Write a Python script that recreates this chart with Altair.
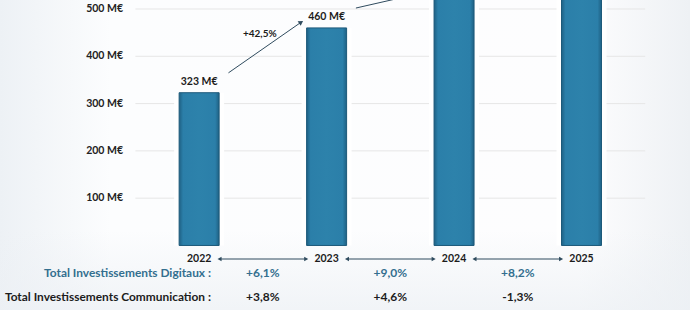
import altair as alt
import pandas as pd
import math

# ---- data -------------------------------------------------------------
years = [2022, 2023, 2024, 2025]
values = [323, 460, 525, 600]          # M€
value_labels = ["323 M€", "460 M€"]    # labelled bars

growth_labels = ["+42,5%"]             # growth of the bar values, year on year

y_ticks = [100, 200, 300, 400, 500]
y_tick_labels = ["100 M€", "200 M€", "300 M€", "400 M€", "500 M€"]

row_labels = ["Total Investissements Digitaux :", "Total Investissements Communication :"]
digital_growth = ["+6,1%", "+9,0%", "+8,2%"]
comm_growth = ["+3,8%", "+4,6%", "-1,3%"]

# ---- layout / style ---------------------------------------------------
W, H = 690, 310
X_DOMAIN = [2020.4768, 2025.812]
Y_DOMAIN = [-136.4, 519.0]
PX_PER_YEAR = W / (X_DOMAIN[1] - X_DOMAIN[0])
PX_PER_UNIT = H / (Y_DOMAIN[1] - Y_DOMAIN[0])

FONT = "Lato"
BLUE = "#336f8f"
DARK = "#1c1c1c"
ARROW = "#2f4b5e"

xs = alt.Scale(domain=X_DOMAIN, nice=False, zero=False)
ys = alt.Scale(domain=Y_DOMAIN, nice=False, zero=False)
X = lambda f: alt.X(f, type="quantitative", scale=xs, axis=None)
Y = lambda f: alt.Y(f, type="quantitative", scale=ys, axis=None)

bars_df = pd.DataFrame({"year": years, "value": values})
labels_df = pd.DataFrame({"year": years[:len(value_labels)],
                          "value": values[:len(value_labels)],
                          "label": value_labels})

# year-on-year arrows drawn from bar values
arrow_rows = []
for i in range(len(years) - 1):
    x0, y0 = years[i] + 0.23, values[i] + 42
    x1, y1 = years[i + 1] - 0.2, values[i + 1] + 12
    dxp = (x1 - x0) * PX_PER_YEAR
    dyp = (y1 - y0) * PX_PER_UNIT
    ang = math.degrees(math.atan2(dxp, dyp)) % 360
    arrow_rows.append({"x0": x0, "y0": y0, "x1": x1, "y1": y1, "angle": ang,
                       "xm": (x0 + x1) / 2, "ym": (y0 + y1) / 2})
arrows_df = pd.DataFrame(arrow_rows)
growth_df = arrows_df.iloc[:len(growth_labels)].assign(label=growth_labels)

grid_df = pd.DataFrame({"v": y_ticks, "label": y_tick_labels})

mid_years = [y + 0.5 for y in years[:-1]]
rows_df = pd.DataFrame({"mid": mid_years, "digital": digital_growth, "comm": comm_growth,
                        "left": [m - 0.34 for m in mid_years], "right": [m + 0.34 for m in mid_years]})

# ---- layers -----------------------------------------------------------
background = alt.Chart(alt.Data(values=[{}])).mark_rect(
    color=alt.Gradient(
        gradient="linear", x1=0, x2=1, y1=0, y2=0,
        stops=[alt.GradientStop(color="#edf1f5", offset=0),
               alt.GradientStop(color="#fcfdfe", offset=0.16),
               alt.GradientStop(color="#fdfdfe", offset=0.84),
               alt.GradientStop(color="#eef1f4", offset=1)])
).encode(x=alt.value(0), x2=alt.value(W), y=alt.value(0), y2=alt.value(H))

bottom_haze = alt.Chart(alt.Data(values=[{}])).mark_rect(
    color=alt.Gradient(
        gradient="linear", x1=0, x2=0, y1=0, y2=1,
        stops=[alt.GradientStop(color="rgba(236,240,244,0)", offset=0),
               alt.GradientStop(color="rgba(236,240,244,0.7)", offset=1)])
).encode(x=alt.value(0), x2=alt.value(W), y=alt.value(230), y2=alt.value(H))

grid = alt.Chart(grid_df).mark_rule(color="#e6e6e6", strokeWidth=1).encode(
    x=X("x0:Q"), x2="x1:Q", y=Y("v")
).transform_calculate(x0="2021.5", x1="2025.5")

ylabels = alt.Chart(grid_df).mark_text(
    align="right", baseline="middle", font=FONT, fontSize=10.5, fontWeight="bold", color="#222222"
).encode(x=alt.value(123), y=Y("v"), text="label:N")

halo = alt.Chart(bars_df).mark_bar(size=50, color="#ffffff", clip=True).encode(
    x=X("year"), y=Y("value"), y2=alt.datum(0)
)

bars = alt.Chart(bars_df).mark_bar(
    size=40, clip=True, stroke="#1d5a7a", strokeWidth=1,
    color=alt.Gradient(
        gradient="linear", x1=0, x2=1, y1=0, y2=0,
        stops=[alt.GradientStop(color="#1f6184", offset=0),
               alt.GradientStop(color="#2b7fa9", offset=0.1),
               alt.GradientStop(color="#2d82ab", offset=0.5),
               alt.GradientStop(color="#2b7fa9", offset=0.9),
               alt.GradientStop(color="#1f6184", offset=1)])
).encode(x=X("year"), y=Y("value"), y2=alt.datum(0))

bar_labels = alt.Chart(labels_df).mark_text(
    dy=-11, baseline="middle", font=FONT, fontSize=10.5, fontWeight="bold", color=DARK
).encode(x=X("year"), y=Y("value"), text="label:N")

arrow_lines = alt.Chart(arrows_df).mark_rule(color=ARROW, strokeWidth=1, clip=True).encode(
    x=X("x0"), y=Y("y0"), x2="x1:Q", y2="y1:Q"
)
arrow_heads = alt.Chart(arrows_df).mark_point(
    shape="triangle-up", filled=True, size=30, color=ARROW, opacity=1, clip=True
).encode(x=X("x1"), y=Y("y1"), angle=alt.Angle("angle:Q", scale=None))

growth_text = alt.Chart(growth_df).mark_text(
    dx=-5, dy=-14, baseline="middle", font=FONT, fontSize=10, fontWeight="bold", color=DARK
).encode(x=X("xm"), y=Y("ym"), text="label:N")

year_labels = alt.Chart(bars_df).mark_text(
    baseline="middle", font=FONT, fontSize=10.5, fontWeight="bold", color=DARK
).encode(x=X("year"), y=alt.value(259), text="year:N")

span_lines = alt.Chart(rows_df).mark_rule(color=ARROW, strokeWidth=1).encode(
    x=X("left"), x2="right:Q", y=alt.value(259)
)
span_left = alt.Chart(rows_df).mark_point(
    shape="triangle-left", filled=True, size=22, color=ARROW, opacity=1
).encode(x=X("left"), y=alt.value(259))
span_right = alt.Chart(rows_df).mark_point(
    shape="triangle-right", filled=True, size=22, color=ARROW, opacity=1
).encode(x=X("right"), y=alt.value(259))

row_df = pd.DataFrame({"label": row_labels, "color": [BLUE, DARK], "ypos": [273, 297]})
row_titles = alt.Chart(row_df).mark_text(
    align="right", baseline="middle", font=FONT, fontSize=11.9, fontWeight="bold"
).encode(x=alt.value(211), y=alt.Y("ypos:Q", scale=None), text="label:N",
         color=alt.Color("color:N", scale=None))

digital_text = alt.Chart(rows_df).mark_text(
    baseline="middle", font=FONT, fontSize=12, fontWeight="bold", color=BLUE
).encode(x=X("mid"), y=alt.value(273), text="digital:N")

comm_text = alt.Chart(rows_df).mark_text(
    baseline="middle", font=FONT, fontSize=12, fontWeight="bold", color=DARK
).encode(x=X("mid"), y=alt.value(297), text="comm:N")

chart = alt.layer(
    background, bottom_haze, grid, ylabels, halo, bars, bar_labels,
    arrow_lines, arrow_heads, growth_text,
    year_labels, span_lines, span_left, span_right,
    row_titles, digital_text, comm_text,
).properties(
    width=W, height=H, padding=0,
    autosize=alt.AutoSizeParams(type="none"),
).configure_view(strokeWidth=0).configure(background="#ffffff")

chart.save("out.html", embed_options={"renderer": "svg", "actions": False})
